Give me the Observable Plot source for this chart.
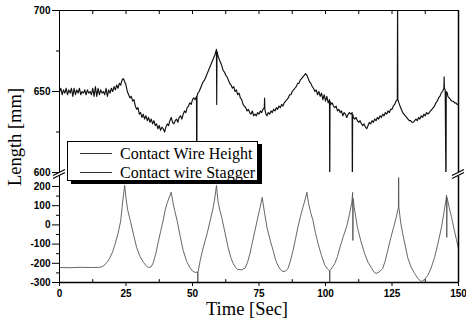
<!DOCTYPE html>
<html>
<head>
<meta charset="utf-8">
<script src="https://cdn.jsdelivr.net/npm/d3@7"></script>
<script src="https://cdn.jsdelivr.net/npm/@observablehq/plot@0.6"></script>
<style>
  html, body { margin: 0; padding: 0; background: #fff; }
  #wrap { position: relative; width: 466px; height: 324px; overflow: hidden; background: #fff; }
  #wrap > svg, #wrap > figure { position: absolute; left: 0; }
  .serif { font-family: "Liberation Serif", "Times New Roman", serif; color: #000; }
  #ylab { position: absolute; left: 15px; top: 137px; transform: translate(-50%, -50%) rotate(-90deg); font-size: 18.5px; white-space: nowrap; line-height: 18.5px; }
  #xlab { position: absolute; left: 247px; top: 300px; transform: translateX(-50%); font-size: 18.5px; white-space: nowrap; line-height: 18.5px; }
  #legend { position: absolute; left: 67px; top: 141px; width: 189px; height: 38px; border: 1px solid #000; background: #fff; box-shadow: 4px 3px 0 #000; }
  .row { position: absolute; left: 0; height: 19px; display: flex; align-items: center; font-size: 16px; white-space: nowrap; }
  .sample { display: inline-block; width: 32px; height: 0; border-top: 1px solid #333; margin-left: 12px; margin-right: 8px; }
</style>
</head>
<body>
<div id="wrap">
  <div id="ylab" class="serif">Length [mm]</div>
  <div id="xlab" class="serif">Time [Sec]</div>
</div>
<script>
// ---- data ----
const xTicks = [0, 25, 50, 75, 100, 125, 150];
const xMinorTicks = [12.5, 37.5, 62.5, 87.5, 112.5, 137.5];
const xTopTicks = [12.5, 25, 37.5, 50, 62.5, 75, 87.5, 100, 112.5, 125, 137.5];
const yTopTicks = [600, 650, 700];
const yTopMinor = [625, 675];
const yBottomTicks = [-300, -200, -100, 0, 100, 200];
const yBottomMinor = [-250, -150, -50, 50, 150];
const seriesNames = ["Contact Wire Height", "Contact wire Stagger"];

// Contact wire height [time s, mm]
const heightData = [[0,650],[0.5,652],[1,648],[1.5,651],[2,649],[2.5,652],[3,648],[3.5,651],[4,649],[4.5,652],[5,647],[5.5,652],[6,648],[6.5,651],[7,649],[7.5,652],[8,648],[8.5,650],[9,649],[9.5,651],[10,648],[10.5,651],[11,649],[11.5,650],[12,648],[12.5,652],[13,647],[13.5,653],[14,647],[14.5,652],[15,648],[15.5,651],[16,649],[16.5,650],[17,648],[17.5,652],[18,647],[18.5,651],[19,649],[19.5,652],[20,650],[20.5,653],[21,651],[21.5,654],[22,652],[22.5,655],[23,654],[23.5,657],[24,658],[24.5,656],[25,654],[25.5,650],[26,648],[26.5,646],[27,647],[27.5,644],[28,645],[28.5,641],[29,639],[29.5,640],[30,636],[30.5,637],[31,634],[31.5,636],[32,633],[32.5,635],[33,632],[33.5,634],[34,631],[34.5,633],[35,630],[35.5,632],[36,629],[36.5,630],[37,627],[37.5,629],[38,626],[38.5,628],[39,627],[39.5,625],[40,628],[40.5,630],[41,629],[41.5,632],[42,634],[42.5,631],[43,630],[43.5,632],[44,633],[44.5,631],[45,634],[45.5,635],[46,633],[46.5,636],[47,638],[47.5,637],[48,640],[48.5,641],[49,643],[49.5,642],[50,645],[50.5,646],[51,645],[51.5,647],[51.6,585],[51.7,647],[52,649],[52.5,650],[53,652],[53.5,654],[54,656],[54.5,657],[55,659],[55.5,661],[56,663],[56.5,665],[57,667],[57.5,669],[58,671],[58.5,673],[59,676],[59.1,642],[59.2,675],[59.6,672],[60,670],[60.5,668],[61,666],[61.5,663],[62,662],[62.5,660],[63,659],[63.5,657],[64,655],[64.5,654],[65,652],[65.5,653],[66,650],[66.5,651],[67,648],[67.5,649],[68,646],[68.5,645],[69,642],[69.5,641],[70,640],[70.5,638],[71,639],[71.5,637],[72,636],[72.5,638],[73,635],[73.5,636],[74,635],[74.5,637],[75,636],[75.5,638],[76,637],[76.5,639],[77,640],[77.1,646],[77.2,639],[77.6,636],[78,635],[78.5,637],[79,636],[79.5,638],[80,637],[80.5,639],[81,638],[81.5,640],[82,639],[82.5,641],[83,640],[83.5,642],[84,641],[84.5,643],[85,644],[85.5,645],[86,646],[86.5,648],[87,648],[87.5,650],[88,651],[88.5,652],[89,653],[89.5,655],[90,655],[90.5,657],[91,658],[91.5,659],[92,660],[92.5,661],[93,660],[93.5,658],[94,656],[94.5,655],[95,653],[95.5,652],[96,650],[96.5,651],[97,648],[97.5,650],[98,647],[98.5,649],[99,645],[99.5,648],[100,644],[100.5,647],[101,643],[101.5,645],[101.6,585],[101.7,644],[102,642],[102.5,643],[103,641],[103.5,640],[104,641],[104.5,638],[105,639],[105.5,637],[106,638],[106.5,635],[107,637],[107.5,636],[108,634],[108.5,636],[109,637],[109.5,636],[110,637],[110.1,585],[110.2,636],[110.5,634],[111,633],[111.5,634],[112,632],[112.5,631],[113,632],[113.5,630],[114,629],[114.5,630],[115,628],[115.5,627],[116,629],[116.5,631],[117,630],[117.5,632],[118,631],[118.5,633],[119,632],[119.5,634],[120,633],[120.5,635],[121,634],[121.5,636],[122,635],[122.5,637],[123,636],[123.5,638],[124,637],[124.5,639],[125,639],[125.5,641],[126,642],[126.5,644],[127,645],[127.1,710],[127.2,645],[127.6,643],[128,641],[128.5,639],[129,637],[129.5,636],[130,635],[130.5,634],[131,633],[131.5,632],[132,632],[132.5,631],[133,631],[133.5,632],[134,633],[134.5,632],[135,634],[135.5,633],[136,635],[136.5,634],[137,636],[137.5,635],[138,637],[138.5,636],[139,637],[139.5,638],[140,639],[140.5,640],[141,641],[141.5,643],[142,644],[142.5,646],[143,647],[143.5,649],[144,650],[144.5,652],[144.6,659],[144.7,652],[145,651],[145.3,585],[145.4,650],[145.8,649],[146,647],[146.5,646],[147,645],[147.5,644],[148,644],[148.5,643],[149,643],[149.5,642],[150,642]];

// Contact wire stagger [time s, mm]
const staggerData = [[0,-222],[4,-223],[8,-221],[12,-222],[15,-221],[16,-218],[17,-208],[18,-192],[19,-170],[20,-140],[21,-95],[22,-45],[23,20],[23.6,100],[24,150],[24.5,205],[25,140],[25.6,80],[26.6,23],[28,-60],[29,-118],[30.3,-165],[31.6,-196],[32.6,-213],[33.5,-222],[34.5,-218],[35.3,-195],[36.2,-150],[37,-97],[38,-35],[39,25],[39.7,75],[40.5,115],[41.3,145],[42,170],[42.6,120],[43.3,75],[44.2,23],[45.3,-55],[46.5,-133],[47.8,-190],[49,-222],[50,-240],[51,-248],[51.9,-245],[52,-305],[52.1,-245],[52.9,-185],[54,-120],[55.5,-45],[56.7,25],[57.8,91],[58.5,150],[59,205],[59.6,120],[60.3,75],[61,39],[62.2,-40],[63.4,-118],[64.4,-170],[65.3,-201],[66.2,-222],[67,-232],[68.5,-234],[69.8,-225],[70.7,-195],[71.6,-149],[72.5,-92],[73.5,-29],[74.5,35],[75.4,91],[76.2,143],[77,70],[78,-13],[79.2,-80],[80.3,-133],[81.2,-180],[82.1,-211],[83,-232],[84,-243],[85,-240],[85.9,-228],[86.8,-188],[87.8,-133],[88.7,-75],[89.6,-13],[90.6,45],[91.5,91],[92.3,130],[93,170],[93.6,115],[94.4,65],[95.3,23],[96.2,-40],[97.2,-97],[98.5,-160],[99.8,-211],[100.8,-230],[101.5,-238],[101.6,-305],[101.7,-238],[102.5,-222],[103.5,-201],[104.5,-165],[105.4,-118],[106.7,-60],[108,-7],[109,55],[109.9,117],[110.2,169],[110.3,-81],[110.4,137],[110.8,90],[111.4,40],[112,-13],[113.3,-85],[114.7,-149],[116,-195],[117.4,-227],[118.2,-245],[119,-253],[120.2,-245],[121.5,-227],[122.5,-185],[123.4,-133],[124.5,-70],[125.6,-13],[126.6,40],[127.4,90],[127.5,247],[127.6,90],[128.2,20],[129,-45],[130,-110],[130.9,-170],[132.2,-220],[133.5,-253],[134.8,-280],[136,-295],[137.2,-285],[138.4,-264],[139.7,-225],[141,-170],[142.3,-95],[143.6,-13],[144.6,70],[145.3,130],[145.5,155],[145.6,-65],[145.7,143],[146.5,90],[147.4,39],[148.3,-20],[149.2,-75],[150,-123]];

// ---- build ----
const height = heightData.map(([t, v]) => ({t, v}));
const stagger = staggerData.map(([t, v]) => ({t, v}));

const W = 466;
const tickFont = {fontSize: 10, fontWeight: "bold", fontFamily: "'Liberation Sans', Arial, sans-serif", tickFormat: d => String(d)};
const common = {width: W, marginLeft: 59, marginRight: 8, style: {background: "transparent", overflow: "visible", color: "#000"}};

const topPlot = Plot.plot({
  ...common,
  height: 172, marginTop: 10, marginBottom: 0,
  x: {domain: [0, 150], axis: null, label: null},
  y: {domain: [600, 700], label: null},
  marks: [
    Plot.axisY({ticks: yTopTicks, tickSize: 7, tickPadding: 2, label: null, ...tickFont}),
    Plot.axisY({ticks: yTopMinor, tickSize: 3, tickFormat: () => "", label: null}),
    Plot.ruleX(xTopTicks, {y1: 700, y2: 697.5, stroke: "#000"}),
    Plot.line(height, {x: "t", y: "v", stroke: "#111", strokeWidth: 1.15, clip: true}),
    Plot.ruleY([700], {stroke: "#000"}),
    Plot.ruleX([0], {stroke: "#000"}),
    Plot.ruleX([150], {stroke: "#000", strokeWidth: 1.5})
  ]
});

const bottomPlot = Plot.plot({
  ...common,
  height: 154, marginTop: 6, marginBottom: 42,
  x: {domain: [0, 150], label: null},
  y: {domain: [-300, 252], label: null},
  marks: [
    Plot.axisY({ticks: yBottomTicks, tickSize: 7, tickPadding: 2, label: null, ...tickFont}),
    Plot.axisY({ticks: yBottomMinor, tickSize: 3, tickFormat: () => "", label: null}),
    Plot.axisX({ticks: xTicks, tickSize: 4, tickPadding: 3, label: null, ...tickFont}),
    Plot.ruleX(xMinorTicks, {y1: -300, y2: -285, stroke: "#000"}),
    Plot.line(stagger, {x: "t", y: "v", stroke: "#555", strokeWidth: 0.9, clip: true}),
    Plot.ruleY([-300], {stroke: "#000", strokeWidth: 1.3}),
    Plot.ruleX([0], {stroke: "#000"}),
    Plot.ruleX([150], {stroke: "#000", strokeWidth: 1.5})
  ]
});

const wrap = document.getElementById("wrap");
topPlot.style.top = "0px";
bottomPlot.style.top = "170px";
wrap.appendChild(topPlot);
wrap.appendChild(bottomPlot);

// axis-break marks, placed from the scales
const overlay = d3.select(wrap).append("svg")
  .attr("width", W).attr("height", 324)
  .style("position", "absolute").style("left", "0px").style("top", "0px")
  .style("pointer-events", "none");
const xs = bottomPlot.scale("x");
const yTopPx = topPlot.scale("y").apply(600);
const yBotPx = 170 + bottomPlot.scale("y").apply(252);
for (const xv of [0, 150]) {
  const px = xs.apply(xv);
  for (const py of [yTopPx + 0.5, yBotPx - 0.5]) {
    overlay.append("line")
      .attr("x1", px - 6).attr("y1", py + 3)
      .attr("x2", px + 6).attr("y2", py - 3)
      .attr("stroke", "#000").attr("stroke-width", 1.2);
  }
}

// legend
const legend = document.createElement("div");
legend.id = "legend";
legend.className = "serif";
seriesNames.forEach((name, i) => {
  const row = document.createElement("div");
  row.className = "row";
  row.style.top = (i === 0 ? 2 : 21) + "px";
  const s = document.createElement("span");
  s.className = "sample";
  const t = document.createElement("span");
  t.textContent = name;
  row.appendChild(s);
  row.appendChild(t);
  legend.appendChild(row);
});
wrap.appendChild(legend);
</script>
</body>
</html>
